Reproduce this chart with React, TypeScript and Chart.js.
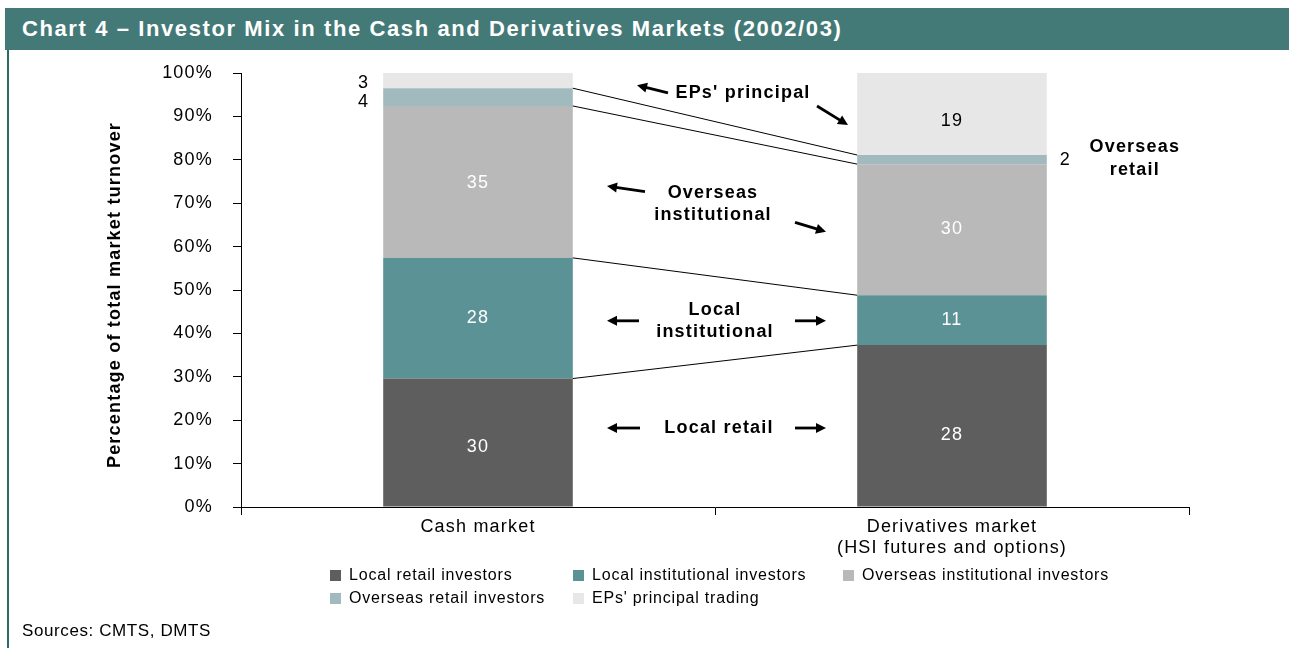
import React, { useEffect, useRef } from 'react';
import { Chart, registerables } from 'chart.js';

Chart.register(...registerables);

const FONT = '"Liberation Sans", Arial, Helvetica, sans-serif';

// ---- data ----
const categories: (string | string[])[] = ['Cash market', ['Derivatives market', '(HSI futures and options)']];
const seriesNames = [
  'Local retail investors',
  'Local institutional investors',
  'Overseas institutional investors',
  'Overseas retail investors',
  "EPs' principal trading",
];
const seriesColors = ['#5e5e5e', '#5b9295', '#b9b9b9', '#a0babd', '#e7e7e7'];

// segment heights as drawn (% of total market turnover)
const localRetail = [29.6, 37.3];
const localInstitutional = [27.8, 11.5];
const overseasInstitutional = [35.0, 30.2];
const overseasRetail = [4.1, 2.1];
const epsPrincipal = [3.5, 18.9];

// printed data labels
const localRetailLabels = ['30', '28'];
const localInstitutionalLabels = ['28', '11'];
const overseasInstitutionalLabels = ['35', '30'];
const overseasRetailLabels = ['4', '2'];
const epsPrincipalLabels = ['3', '19'];

const yTickValues = [0, 10, 20, 30, 40, 50, 60, 70, 80, 90, 100];
const yAxisTitle = 'Percentage of total market turnover';

const seriesValues = [localRetail, localInstitutional, overseasInstitutional, overseasRetail, epsPrincipal];
const seriesLabels = [
  localRetailLabels,
  localInstitutionalLabels,
  overseasInstitutionalLabels,
  overseasRetailLabels,
  epsPrincipalLabels,
];

// label layout (not data): where each printed label sits and a small vertical nudge in px
const labelPlacement = [
  ['in', 'in'],
  ['in', 'in'],
  ['in', 'in'],
  ['left', 'right'],
  ['left', 'in'],
];
const labelNudge = [
  [5, 9],
  [0, 0],
  [1, -1],
  [5, 0],
  [2, 7],
];
const labelColors = ['#ffffff', '#ffffff', '#ffffff', '#000000', '#000000'];

function drawArrow(ctx: CanvasRenderingContext2D, x1: number, y1: number, x2: number, y2: number) {
  const ang = Math.atan2(y2 - y1, x2 - x1);
  const hl = 10;
  const hw = 5;
  const bx = x2 - hl * Math.cos(ang);
  const by = y2 - hl * Math.sin(ang);
  ctx.beginPath();
  ctx.moveTo(x1, y1);
  ctx.lineTo(bx + Math.cos(ang), by + Math.sin(ang));
  ctx.lineWidth = 2.8;
  ctx.strokeStyle = '#000';
  ctx.stroke();
  ctx.beginPath();
  ctx.moveTo(x2, y2);
  ctx.lineTo(bx + hw * Math.sin(ang), by - hw * Math.cos(ang));
  ctx.lineTo(bx - hw * Math.sin(ang), by + hw * Math.cos(ang));
  ctx.closePath();
  ctx.fillStyle = '#000';
  ctx.fill();
}

const spacingPlugin = {
  id: 'spacing',
  beforeLayout(chart: any) {
    chart.ctx.letterSpacing = '1.2px';
  },
  beforeDraw(chart: any) {
    chart.ctx.letterSpacing = '1.2px';
  },
};

const overlayPlugin = {
  id: 'overlay',
  afterDatasetsDraw(chart: any) {
    const ctx: CanvasRenderingContext2D = chart.ctx;
    const yScale = chart.scales.y;
    const area = chart.chartArea;
    const metas = chart.data.datasets.map((_: any, i: number) => chart.getDatasetMeta(i));
    const Y = (v: number) => yScale.getPixelForValue(v);
    const mid = (area.left + area.right) / 2;

    ctx.save();
    // connector lines between the two bars at each segment boundary
    ctx.strokeStyle = '#000';
    ctx.lineWidth = 1;
    for (let k = 0; k < metas.length - 1; k++) {
      const a = metas[k].data[0];
      const b = metas[k].data[1];
      ctx.beginPath();
      ctx.moveTo(a.x + a.width / 2, a.y);
      ctx.lineTo(b.x - b.width / 2, b.y);
      ctx.stroke();
    }

    // data labels
    (ctx as any).letterSpacing = '1.2px';
    ctx.font = `18px ${FONT}`;
    ctx.textBaseline = 'middle';
    metas.forEach((meta: any, i: number) => {
      meta.data.forEach((bar: any, j: number) => {
        const text = seriesLabels[i][j];
        const place = labelPlacement[i][j];
        const cy = (bar.y + bar.base) / 2 + labelNudge[i][j];
        if (place === 'in') {
          ctx.fillStyle = labelColors[i];
          ctx.textAlign = 'center';
          ctx.fillText(text, bar.x, cy);
        } else if (place === 'left') {
          ctx.fillStyle = '#000';
          ctx.textAlign = 'right';
          ctx.fillText(text, bar.x - bar.width / 2 - 14, cy);
        } else {
          ctx.fillStyle = '#000';
          ctx.textAlign = 'left';
          ctx.fillText(text, bar.x + bar.width / 2 + 13, cy);
        }
      });
    });

    // annotations
    const derivBar = metas[0].data[1];
    const derivRight = derivBar.x + derivBar.width / 2;
    ctx.font = `bold 18px ${FONT}`;
    (ctx as any).letterSpacing = '1.2px';
    ctx.fillStyle = '#000';
    ctx.textAlign = 'center';
    const texts: [string, number, number][] = [
      ["EPs' principal", mid + 28, 95.4],
      ['Overseas', mid - 2, 72.4],
      ['institutional', mid - 2, 67.3],
      ['Local', mid, 45.4],
      ['institutional', mid, 40.3],
      ['Local retail', mid + 4, 18.2],
    ];
    texts.forEach(([t, x, v]) => ctx.fillText(t, x, Y(v)));
    ctx.fillText('Overseas', derivRight + 88, Y(82.95));
    ctx.fillText('retail', derivRight + 88, Y(77.65));

    const arrows: [number, number, number, number][] = [
      [mid - 47, 95.4, mid - 78, 97.2],
      [mid + 102, 92.4, mid + 133, 88.0],
      [mid - 70, 72.65, mid - 108, 73.95],
      [mid + 80, 65.6, mid + 111, 63.4],
      [mid - 76, 42.9, mid - 108, 42.9],
      [mid + 80, 42.9, mid + 111, 42.9],
      [mid - 75, 18.2, mid - 108, 18.2],
      [mid + 80, 18.2, mid + 111, 18.2],
    ];
    arrows.forEach(([x1, v1, x2, v2]) => drawArrow(ctx, x1, Y(v1), x2, Y(v2)));
    ctx.restore();
  },
  afterDraw(chart: any) {
    const ctx: CanvasRenderingContext2D = chart.ctx;
    const yScale = chart.scales.y;

    // y-axis title
    ctx.save();
    (ctx as any).letterSpacing = '1.2px';
    ctx.font = `bold 18px ${FONT}`;
    ctx.fillStyle = '#000';
    ctx.textAlign = 'center';
    ctx.textBaseline = 'middle';
    ctx.translate(yScale.left + 15, (yScale.top + yScale.bottom) / 2 + 5);
    ctx.rotate(-Math.PI / 2);
    ctx.fillText(yAxisTitle, 0, 0);
    ctx.restore();

    // legend
    ctx.save();
    (ctx as any).letterSpacing = '0.8px';
    ctx.font = `16px ${FONT}`;
    ctx.textBaseline = 'middle';
    ctx.textAlign = 'left';
    const colX = [330, 573, 843];
    const rowY = [570, 593];
    const box = 11;
    chart.data.datasets.forEach((ds: any, i: number) => {
      const col = i % 3;
      const row = Math.floor(i / 3);
      const x = colX[col];
      const y = rowY[row];
      ctx.fillStyle = ds.backgroundColor;
      ctx.fillRect(x, y, box, box);
      ctx.fillStyle = '#000';
      ctx.fillText(ds.label, x + 19, y + box / 2 + 0.5);
    });
    ctx.restore();
  },
};

export default function App() {
  const ref = useRef<HTMLCanvasElement>(null);

  useEffect(() => {
    const canvas = ref.current;
    if (!canvas) return;
    const chart = new Chart(canvas, {
      type: 'bar',
      data: {
        labels: categories as any,
        datasets: seriesNames.map((name, i) => ({
          label: name,
          data: seriesValues[i],
          backgroundColor: seriesColors[i],
          borderWidth: 0,
          barPercentage: 0.4,
          categoryPercentage: 1.0,
        })),
      },
      options: {
        animation: false,
        responsive: false,
        maintainAspectRatio: false,
        devicePixelRatio: 1,
        layout: { padding: { left: 100, right: 100, top: 73, bottom: 81 } },
        plugins: {
          legend: { display: false },
          tooltip: { enabled: false },
          title: { display: false },
        },
        scales: {
          x: {
            stacked: true,
            grid: {
              offset: true,
              drawOnChartArea: false,
              drawTicks: true,
              tickLength: 8,
              color: '#000',
              lineWidth: 1,
            },
            border: { display: true, color: '#000', width: 1 },
            ticks: {
              color: '#000',
              padding: 1,
              font: { family: FONT, size: 18 },
              maxRotation: 0,
              autoSkip: false,
            },
            afterFit: (s: any) => {
              s.height = 60;
            },
          },
          y: {
            stacked: true,
            min: 0,
            max: 100,
            afterBuildTicks: (s: any) => {
              s.ticks = yTickValues.map((v) => ({ value: v }));
            },
            grid: {
              drawOnChartArea: false,
              drawTicks: true,
              tickLength: 8,
              color: '#000',
              lineWidth: 1,
            },
            border: { display: true, color: '#000', width: 1 },
            ticks: {
              color: '#000',
              padding: 20,
              font: { family: FONT, size: 18 },
              callback: (v: any) => `${v}%`,
            },
            title: { display: false },
            afterFit: (s: any) => {
              s.width = 141;
            },
          },
        },
      },
      plugins: [spacingPlugin, overlayPlugin],
    } as any);
    return () => chart.destroy();
  }, []);

  return (
    <div
      style={{
        position: 'absolute',
        left: 0,
        top: 0,
        width: 1289,
        height: 648,
        background: '#ffffff',
        overflow: 'hidden',
        fontFamily: FONT,
      }}
    >
      <canvas
        ref={ref}
        width={1289}
        height={648}
        style={{ position: 'absolute', left: 0, top: 0, width: 1289, height: 648 }}
      />
      <div
        style={{
          position: 'absolute',
          left: 5,
          top: 8,
          width: 1284,
          height: 42,
          background: '#437a78',
        }}
      >
        <div
          style={{
            position: 'absolute',
            left: 17,
            top: 0,
            height: 42,
            lineHeight: '42px',
            color: '#ffffff',
            fontWeight: 'bold',
            fontSize: 22,
            letterSpacing: '1.6px',
            whiteSpace: 'nowrap',
          }}
        >
          Chart 4 – Investor Mix in the Cash and Derivatives Markets (2002/03)
        </div>
      </div>
      <div
        style={{
          position: 'absolute',
          left: 7,
          top: 50,
          width: 2,
          height: 598,
          background: '#2b6a66',
        }}
      />
      <div
        style={{
          position: 'absolute',
          left: 22,
          top: 621,
          lineHeight: '20px',
          fontSize: 17,
          letterSpacing: '0.6px',
          color: '#000',
          whiteSpace: 'nowrap',
        }}
      >
        Sources: CMTS, DMTS
      </div>
    </div>
  );
}
